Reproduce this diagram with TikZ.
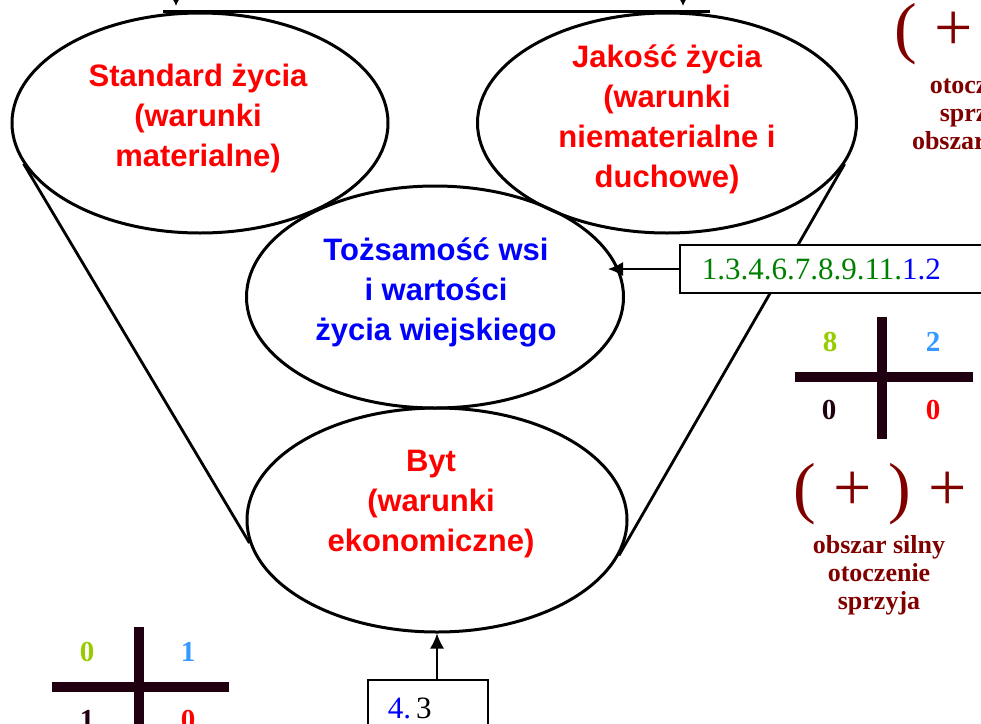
\documentclass[tikz,border=0pt]{standalone}
\usepackage{fontspec}
\setmainfont{Liberation Serif}
\newfontfamily\arialfont{Liberation Sans}
\usepackage{xcolor}
\usetikzlibrary{shapes.geometric,arrows.meta,positioning,calc}
\definecolor{ciemny}{HTML}{200010}
\definecolor{bordo}{HTML}{800000}
\definecolor{zolty}{HTML}{99CC00}
\definecolor{niebieski}{HTML}{3399FF}
\definecolor{zielony}{HTML}{008000}

\begin{document}
\begin{tikzpicture}[x=1pt,y=-1pt,
	bubble/.style={draw,ellipse,line width=3pt,inner sep=0pt},
	czerwony/.style={align=center,text=red,font=\arialfont\bfseries\fontsize{31}{40}\selectfont},
	modry/.style={align=center,text=blue,font=\arialfont\bfseries\fontsize{31}{40}\selectfont},
	numbox/.style={draw,fill=white,line width=1.5pt,font=\fontsize{31}{34}\selectfont},
	arr/.style={line width=1.5pt,-{Latex[length=15pt,width=14pt]}},
	smallarr/.style={line width=1pt,-{Latex[length=7pt,width=7pt]}},
	lejek/.style={line width=2.8pt},
	crossbar/.style={line width=10pt,ciemny},
	cyfra/.style={font=\bfseries\fontsize{29}{34}\selectfont},
	nawias/.style={text=bordo,font=\fontsize{68}{70}\selectfont,inner sep=0pt},
	bordotxt/.style={align=center,text=bordo,font=\bfseries\fontsize{26}{28}\selectfont}]
	\useasboundingbox (0,0) rectangle (981,723);
	\clip (0,0) rectangle (981,723);

	\node[bubble,minimum width=376,minimum height=220] (standard) at (200,123) {};
	\node[bubble,minimum width=379,minimum height=220] (jakosc) at (667,123) {};
	\node[bubble,minimum width=377,minimum height=222] (toz) at (435,297) {};
	\node[bubble,minimum width=380,minimum height=224] (byt) at (437,520) {};

	\node[czerwony] (standardtxt) at (198,118) {Standard życia\\(warunki\\materialne)};
	\node[czerwony] (jakosctxt) at (667,119) {Jakość życia\\(warunki\\niematerialne i\\duchowe)};
	\node[modry] (toztxt) at (436,292) {Tożsamość wsi\\i wartości\\życia wiejskiego};
	\node[czerwony] (byttxt) at (431,504) {Byt\\(warunki\\ekonomiczne)};

	\draw[line width=3pt] ($(standard.north)+(-37,0)$) -- ($(jakosc.north)+(43,0)$);
	\coordinate (skadL) at (176,-20);
	\coordinate (dokadL) at (176,6);
	\coordinate (skadP) at (683,-20);
	\coordinate (dokadP) at (683,6);
	\draw[smallarr] (skadL) -- (dokadL);
	\draw[smallarr] (skadP) -- (dokadP);

	\draw[lejek] (standard.193) -- (byt.187);
	\draw[lejek] (jakosc.347) -- (byt.349);

	\node[numbox,anchor=west,text width=276,inner xsep=22,align=left,minimum height=48] (kod) at (679,269) {\textcolor{zielony}{1.3.4.6.7.8.9.11.}\textcolor{blue}{1.2}};
	\coordinate (tipA) at (608,269);
	\draw[arr] (kod.west) -- (tipA);

	\node[numbox,anchor=north west,text width=80,inner xsep=20,align=left,minimum height=58] (ukl) at (367,679) {\textcolor{blue}{4.}\,3};
	\draw[arr] (ukl.north -| byt.south) -- (byt.south);

	\draw[crossbar] (795,377) -- (973,377);
	\draw[crossbar] (882,317) -- (882,439);
	\node[cyfra,text=zolty] (pA) at (830,342) {8};
	\node[cyfra,text=niebieski] (pB) at (933,342) {2};
	\node[cyfra,text=ciemny] (pC) at (829,410) {0};
	\node[cyfra,text=red] (pD) at (933,410) {0};

	\draw[crossbar] (52,687) -- (229,687);
	\draw[crossbar] (139,627) -- (139,760);
	\node[cyfra,text=zolty] (lA) at (87,652) {0};
	\node[cyfra,text=niebieski] (lB) at (188,652) {1};
	\node[cyfra,text=ciemny] (lC) at (87,720) {1};
	\node[cyfra,text=red] (lD) at (188,720) {0};

	\node[nawias,anchor=base] (nawiasP) at (880,510) {( + ) +};
	\node[bordotxt] (opisP) at (879,575) {obszar silny\\otoczenie\\sprzyja};

	\node[nawias,anchor=base] (nawiasG) at (981,50) {( + ) −};
	\node[bordotxt] (opisG) at (981,115) {otoczenie\\sprzyja\\obszar słaby};
\end{tikzpicture}
\end{document}
